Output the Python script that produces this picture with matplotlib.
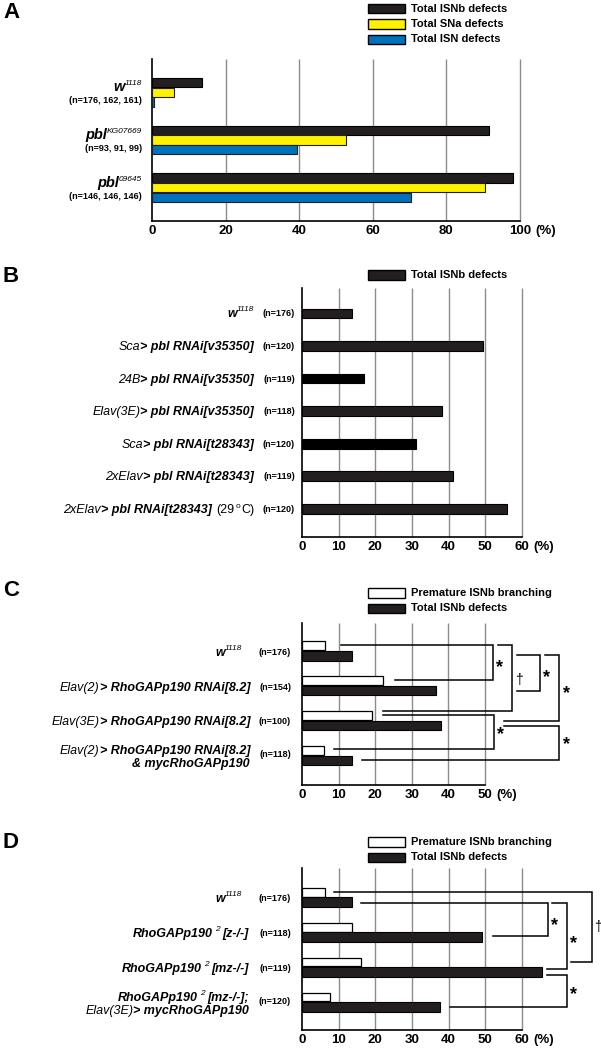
import matplotlib
matplotlib.use('Agg')
import matplotlib.pyplot as plt
from matplotlib.font_manager import FontProperties
from matplotlib.patches import Rectangle
import numpy as np

W, H = 601, 1050
SANS = ['Liberation Sans', 'DejaVu Sans']

# ---------------- data ----------------
# panel A
a_isnb = [13.6, 91.5, 98.1]
a_sna = [6.0, 52.7, 90.5]
a_isn = [0.5, 39.3, 70.5]
a_n = ['(n=176, 162, 161)', '(n=93, 91, 99)', '(n=146, 146, 146)']
a_ticks = [0, 20, 40, 60, 80, 100]

# panel B
b_total = [13.7, 49.3, 16.9, 38.3, 31.0, 41.3, 56.0]
b_n = ['(n=176)', '(n=120)', '(n=119)', '(n=118)', '(n=120)', '(n=119)', '(n=120)']
b_ticks = [0, 10, 20, 30, 40, 50, 60]

# panel C
c_premature = [6.3, 22.1, 19.0, 5.9]
c_total = [13.6, 36.5, 38.1, 13.6]
c_n = ['(n=176)', '(n=154)', '(n=100)', '(n=118)']
c_ticks = [0, 10, 20, 30, 40, 50]

# panel D
d_premature = [6.3, 13.5, 16.0, 7.5]
d_total = [13.6, 49.2, 65.5, 37.5]
d_n = ['(n=176)', '(n=118)', '(n=119)', '(n=120)']
d_ticks = [0, 10, 20, 30, 40, 50, 60]

# significance brackets: (y top, y bottom, x right, x left top, x left bottom, mark, mark x, mark y)
c_sig = [(-0.03, 1.00, 52.1, 10.6, 25.5, '*', 53.9, 0.51),
         (-0.03, 1.87, 57.4, 53.5, 22.2, '', 0, 0),
         (0.27, 1.29, 65.0, 58.8, 58.8, '*', 66.8, 0.79),
         (0.27, 2.16, 70.3, 66.4, 55.2, '*', 72.2, 1.27),
         (2.00, 2.98, 52.5, 22.2, 8.8, '*', 54.1, 2.44),
         (2.31, 3.28, 70.3, 55.2, 16.5, '*', 72.2, 2.73)]
c_dagger = (59.3, 0.99)
d_sig = [(0.00, 1.99, 79.0, 8.6, 73.4, '\u2020', 80.6, 0.99),
         (0.32, 1.26, 67.0, 16.1, 52.2, '*', 68.8, 0.85),
         (0.32, 2.21, 72.2, 68.3, 66.7, '*', 74.1, 1.35),
         (2.36, 3.29, 72.2, 66.7, 40.4, '*', 74.1, 2.80)]

BLACK = '#231f20'
YELLOW = '#fff200'
BLUE = '#0072bc'
GRID = '#8c8c8c'

ST = {
    'bi': FontProperties(family=SANS, weight='bold', style='italic', size=9),
    'Bi': FontProperties(family=SANS, weight='bold', style='italic', size=10.5),
    'i': FontProperties(family=SANS, style='italic', size=9),
    'r': FontProperties(family=SANS, size=9),
    'sup': FontProperties(family=SANS, style='italic', size=6),
    'supr': FontProperties(family=SANS, size=6),
    'n': FontProperties(family=SANS, weight='bold', size=6.5),
    'leg': FontProperties(family=SANS, weight='bold', size=8),
    'tick': FontProperties(family=SANS, weight='bold', size=9.5),
    'panel': FontProperties(family=SANS, weight='bold', size=16),
    'star': FontProperties(family=SANS, weight='bold', size=13),
    'dag': FontProperties(family=SANS, size=10),
}

fig = plt.figure(figsize=(W / 100, H / 100), dpi=100)
bg = fig.add_axes([0, 0, 1, 1])
bg.set_xlim(0, W)
bg.set_ylim(H, 0)
bg.axis('off')
R = fig.canvas.get_renderer()


def px_axes(left, top, right, bottom):
    return fig.add_axes([left / W, 1 - bottom / H, (right - left) / W, (bottom - top) / H])


def setup(ax, ticks, ylim):
    ax.set_xlim(0, ticks[-1])
    ax.set_ylim(*ylim)
    for s in ['top', 'right']:
        ax.spines[s].set_visible(False)
    for s in ['left', 'bottom']:
        ax.spines[s].set_linewidth(1.2)
        ax.spines[s].set_color('black')
    ax.vlines(ticks[1:], ylim[0], ylim[1], color=GRID, lw=1.0, zorder=0, clip_on=False)
    ax.set_xticks(ticks)
    ax.set_yticks([])
    ax.tick_params(axis='x', length=0, pad=3)
    for lab in ax.get_xticklabels():
        lab.set_fontproperties(ST['tick'])
    ax.patch.set_alpha(0)


def row_px(ax, y):
    return H - ax.transData.transform((0, y))[1]


def chain(x, y, segs):
    for seg in reversed(segs):
        text, st = seg[0], seg[1]
        dy = seg[2] if len(seg) > 2 else 0
        gap = seg[3] if len(seg) > 3 else 0
        x -= gap
        t = bg.text(x, y + dy, text, ha='right', va='baseline', fontproperties=ST[st])
        x -= t.get_window_extent(R).width


def legend(y0, items):
    for k, (lab, fc) in enumerate(items):
        yc = y0 + k * 15.3
        bg.add_patch(Rectangle((368, yc - 4.6), 37, 9.2, fc=fc, ec='black', lw=1.0))
        bg.text(411, yc, lab, va='center', ha='left', fontproperties=ST['leg'])


def brackets(ax, sig):
    for yt, yb, xr, xlt, xlb, mark, mx, my in sig:
        ax.plot([xlt, xr, xr, xlb], [yt, yt, yb, yb], color='black', lw=1.1,
                clip_on=False, solid_joinstyle='miter')
        if mark == '*':
            ax.text(mx, my + 0.12, '*', ha='center', va='center', fontproperties=ST['star'], clip_on=False)
        elif mark:
            ax.text(mx, my, mark, ha='center', va='center', fontproperties=ST['dag'], clip_on=False)


def percent(ax):
    fig.canvas.draw()
    bb = ax.get_xticklabels()[-1].get_window_extent(R)
    bg.text(bb.x1 + 4, H - (bb.y0 + bb.y1) / 2, '(%)', ha='left', va='center', fontproperties=ST['tick'])


# ---------------- panel A ----------------
axA = px_axes(152, 59, 520, 221)
setup(axA, a_ticks, (2.90, -0.49))
ya = np.arange(3)
hA = 0.19
axA.barh(ya, a_isnb, hA, color=BLACK, edgecolor='black', lw=0.8, zorder=3)
axA.barh(ya + 0.205, a_sna, hA, color=YELLOW, edgecolor=BLACK, lw=0.8, zorder=3)
axA.barh(ya + 0.41, a_isn, hA, color=BLUE, edgecolor=BLACK, lw=0.8, zorder=3)
legend(8.7, [('Total ISNb defects', BLACK), ('Total SNa defects', YELLOW), ('Total ISN defects', BLUE)])
a_labels = [[('w', 'Bi'), ('1118', 'sup', -6, 0)],
            [('pbl', 'Bi'), ('KG07669', 'sup', -6, 0)],
            [('pbl', 'Bi'), ('09645', 'sup', -6, 0)]]
for i in range(3):
    r = row_px(axA, ya[i])
    chain(142, r + 9, a_labels[i])
    chain(142, r + 21, [(a_n[i], 'n')])
bg.text(3, 13, 'A', va='center', ha='left', fontproperties=ST['panel'])

# ---------------- panel B ----------------
axB = px_axes(302, 288, 522, 537)
setup(axB, b_ticks, (6.86, -0.78))
yb = np.arange(7)
b_colors = [BLACK, BLACK, 'black', BLACK, 'black', BLACK, BLACK]
axB.barh(yb, b_total, 0.3, color=b_colors, edgecolor='black', lw=0.8, zorder=3)
legend(275, [('Total ISNb defects', BLACK)])
b_labels = [[('w', 'bi'), ('1118', 'sup', -6, 0)],
            [('Sca', 'i'), ('> pbl RNAi[v35350]', 'bi')],
            [('24B', 'i'), ('> pbl RNAi[v35350]', 'bi')],
            [('Elav(3E)', 'i'), ('> pbl RNAi[v35350]', 'bi')],
            [('Sca', 'i'), ('> pbl RNAi[t28343]', 'bi')],
            [('2xElav', 'i'), ('> pbl RNAi[t28343]', 'bi')],
            [('2xElav', 'i'), ('> pbl RNAi[t28343]', 'bi', 0, 4), ('(29', 'r', 0, 2),
             ('o', 'supr', -5, 0), ('C)', 'r')]]
for i in range(7):
    r = row_px(axB, yb[i])
    chain(254, r + 4, b_labels[i])
    chain(295, r + 3, [(b_n[i], 'n')])
bg.text(3, 276, 'B', va='center', ha='left', fontproperties=ST['panel'])

# ---------------- panel C ----------------
axC = px_axes(302, 623, 485, 785)
setup(axC, c_ticks, (4.0, -0.65))
yc = np.arange(4)
axC.barh(yc, c_premature, 0.25, color='white', edgecolor='black', lw=0.9, zorder=3)
axC.barh(yc + 0.296, c_total, 0.27, color=BLACK, edgecolor='black', lw=0.8, zorder=3)
legend(593, [('Premature ISNb branching', 'white'), ('Total ISNb defects', BLACK)])
c_labels = [[('w', 'bi'), ('1118', 'sup', -6, 0)],
            [('Elav(2)', 'i'), ('> RhoGAPp190 RNAi[8.2]', 'bi')],
            [('Elav(3E)', 'i'), ('> RhoGAPp190 RNAi[8.2]', 'bi')]]
for i in range(3):
    r = (row_px(axC, yc[i]) + row_px(axC, yc[i] + 0.296)) / 2
    chain(250 if i else 242, r + 5, c_labels[i])
    chain(291, r + 4, [(c_n[i], 'n')])
r3 = row_px(axC, yc[3])
chain(250, r3 + 4, [('Elav(2)', 'i'), ('> RhoGAPp190 RNAi[8.2]', 'bi')])
chain(250, r3 + 17, [('& mycRhoGAPp190', 'bi')])
chain(291, r3 + 7, [(c_n[3], 'n')])
brackets(axC, c_sig)
axC.text(c_dagger[0], c_dagger[1], '\u2020', ha='center', va='center', fontproperties=ST['dag'], clip_on=False)
bg.text(3, 590, 'C', va='center', ha='left', fontproperties=ST['panel'])

# ---------------- panel D ----------------
axD = px_axes(302, 868, 522, 1030)
setup(axD, d_ticks, (3.94, -0.69))
yd = np.arange(4)
axD.barh(yd, d_premature, 0.25, color='white', edgecolor='black', lw=0.9, zorder=3, clip_on=False)
axD.barh(yd + 0.286, d_total, 0.28, color=BLACK, edgecolor='black', lw=0.8, zorder=3, clip_on=False)
legend(842, [('Premature ISNb branching', 'white'), ('Total ISNb defects', BLACK)])
d_labels = [[('w', 'bi'), ('1118', 'sup', -6, 0)],
            [('RhoGAPp190', 'bi', 0, 2), ('2', 'sup', -6, 3), ('[z-/-]', 'bi')],
            [('RhoGAPp190', 'bi', 0, 2), ('2', 'sup', -6, 3), ('[mz-/-]', 'bi')]]
for i in range(3):
    r = (row_px(axD, yd[i]) + row_px(axD, yd[i] + 0.286)) / 2
    chain(249 if i else 242, r + 5, d_labels[i])
    chain(291, r + 4, [(d_n[i], 'n')])
r3 = row_px(axD, yd[3])
chain(249, r3 + 4, [('RhoGAPp190', 'bi', 0, 2), ('2', 'sup', -6, 3), ('[mz-/-];', 'bi')])
chain(249, r3 + 17, [('Elav(3E)', 'i'), ('> mycRhoGAPp190', 'bi')])
chain(291, r3 + 7, [(d_n[3], 'n')])
brackets(axD, d_sig)
bg.text(3, 843, 'D', va='center', ha='left', fontproperties=ST['panel'])

for ax in [axA, axB, axC, axD]:
    percent(ax)

fig.savefig('out.png', dpi=100)
